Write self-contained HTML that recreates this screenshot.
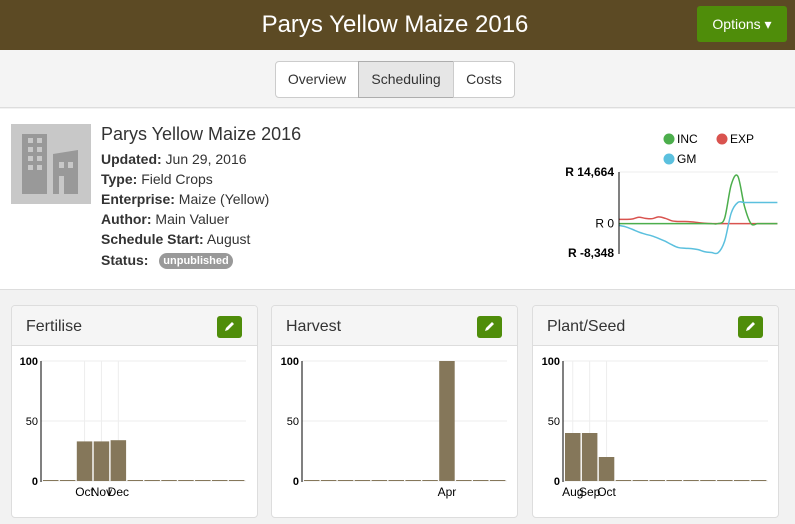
<!DOCTYPE html>
<html><head><meta charset="utf-8"><style>
*{box-sizing:border-box}
body{margin:0;width:795px;height:524px;overflow:hidden;font-family:"Liberation Sans",sans-serif;background:#f2f2f2;color:#333;position:relative}
.abs{position:absolute}
#hdr{left:0;top:0;width:795px;height:50px;background:#5c4a24}
#title{left:0;top:0;width:790px;text-align:center;line-height:50px;color:#fff;font-size:24px}
#opt{left:697px;top:6px;width:90px;height:36px;background:#4f8d0a;border-radius:3px;color:#fff;font-size:14px;line-height:36px;text-align:center}
#tabbar{left:0;top:50px;width:795px;height:58px;background:#f4f4f4;border-bottom:1px solid #ddd}
.tab{top:61px;height:37px;border:1px solid #ccc;background:#fff;font-size:14px;line-height:35px;text-align:center}
#info{left:0;top:109px;width:795px;height:181px;background:#fff;border-bottom:1px solid #ddd}
.ln{left:101px;font-size:14px}
.card{top:305px;width:247px;height:213px;background:#fff;border:1px solid #ddd;border-radius:4px;overflow:hidden}
.ch{left:0;top:0;width:100%;height:40px;background:#f5f5f5;border-bottom:1px solid #ddd}
.ct{left:14px;top:0;line-height:42px;font-size:16px;color:#333}
.eb{left:205px;top:10px;width:25px;height:22px;background:#4f8d0a;border-radius:3px}
</style></head><body>
<div id="hdr" class="abs"></div>
<div id="title" class="abs">Parys Yellow Maize 2016</div>
<div id="opt" class="abs">Options ▾</div>
<div id="tabbar" class="abs"></div>
<div class="abs tab" style="left:275px;width:84px;border-radius:4px 0 0 4px">Overview</div>
<div class="abs tab" style="left:358px;width:96px;background:#e6e6e6;border-color:#adadad">Scheduling</div>
<div class="abs tab" style="left:453px;width:62px;border-radius:0 4px 4px 0">Costs</div>
<div id="info" class="abs"></div>
<svg class="abs" style="left:11px;top:124px" width="80" height="80">
<rect width="80" height="80" fill="#c8c8c8"/>
<rect x="11" y="10" width="25" height="60" fill="#999"/>
<polygon points="42,70 42,30 67,26 67,70" fill="#999"/>
<g fill="#c8c8c8"><rect x="17" y="14" width="5" height="5"/><rect x="26" y="14" width="5" height="5"/><rect x="17" y="23" width="5" height="5"/><rect x="26" y="23" width="5" height="5"/><rect x="17" y="32" width="5" height="5"/><rect x="26" y="32" width="5" height="5"/><rect x="17" y="41" width="5" height="5"/><rect x="26" y="41" width="5" height="5"/><rect x="48" y="38" width="5" height="6"/><rect x="57" y="38" width="5" height="6"/><rect x="48" y="52" width="5" height="18"/></g>
</svg>
<div class="abs" style="left:101px;top:124px;font-size:18px">Parys Yellow Maize 2016</div>
<div class="abs ln" style="top:151px"><b>Updated:</b> Jun 29, 2016</div>
<div class="abs ln" style="top:171px"><b>Type:</b> Field Crops</div>
<div class="abs ln" style="top:191px"><b>Enterprise:</b> Maize (Yellow)</div>
<div class="abs ln" style="top:211px"><b>Author:</b> Main Valuer</div>
<div class="abs ln" style="top:231px"><b>Schedule Start:</b> August</div>
<div class="abs ln" style="top:252px"><b>Status:</b></div>
<div class="abs" style="left:159px;top:253px;width:74px;height:16px;border-radius:8px;background:#999;color:#fff;font-size:11px;font-weight:bold;text-align:center;line-height:16px">unpublished</div>

<svg id="mini" class="abs" style="left:0;top:0" width="795" height="290"></svg>

<div class="abs card" style="left:11px"><div class="abs ch"></div><div class="abs ct">Fertilise</div><div class="abs eb"><svg width="25" height="22"><path d="M8 15 L9 12 L15 6 L17 8 L11 14 Z" fill="#fff"/></svg></div></div>
<div class="abs card" style="left:271px"><div class="abs ch"></div><div class="abs ct">Harvest</div><div class="abs eb"><svg width="25" height="22"><path d="M8 15 L9 12 L15 6 L17 8 L11 14 Z" fill="#fff"/></svg></div></div>
<div class="abs card" style="left:532px"><div class="abs ch"></div><div class="abs ct">Plant/Seed</div><div class="abs eb"><svg width="25" height="22"><path d="M8 15 L9 12 L15 6 L17 8 L11 14 Z" fill="#fff"/></svg></div></div>
<svg id="bars" class="abs" style="left:0;top:0" width="795" height="524"></svg>
<script>
const months=["Aug","Sep","Oct","Nov","Dec","Jan","Feb","Mar","Apr","May","Jun","Jul"];
const fertiliseValues=[0,0,33,33,34,0,0,0,0,0,0,0];
const harvestValues=[0,0,0,0,0,0,0,0,100,0,0,0];
const plantValues=[40,40,20,0,0,0,0,0,0,0,0,0];
const yTicks=[0,50,100];
const incValues=[0,0,0,0,0,0,0,0,0,0,0,0,0,0,0,0,1500,11000,13500,5000,0,0,0,0,0];
const expValues=[1200,1200,1300,1800,1500,1400,1900,1500,800,600,600,500,300,100,0,0,0,0,0,0,0,0,0,0,0];
const gmValues=[-500,-900,-1600,-2400,-3000,-3500,-4200,-5000,-6000,-6800,-7000,-7100,-7400,-8000,-8200,-8300,-5000,3000,6000,6000,6000,6000,6000,6000,6000];
const cashTicks=[14664,0,-8348];
const cashTickLabels=["R 14,664","R 0","R -8,348"];
const NS="http://www.w3.org/2000/svg";
function mk(p,t,a){const e=document.createElementNS(NS,t);for(const k in a)e.setAttribute(k,a[k]);p.appendChild(e);return e;}
const bs=document.getElementById('bars');
function barChart(ax,vals,nm){
  const y=v=>481-v*1.2, x=i=>ax+2+i*16.9, w=15.5;
  yTicks.forEach(t=>{const g=mk(bs,'line',{x1:ax,x2:ax+205,y1:y(t),y2:y(t),stroke:'#eee'});
    
    
    const l=mk(bs,'text',{x:ax-3,y:y(t)+4,'text-anchor':'end','font-size':11,'font-weight':t==50?'normal':'bold',fill:'#000'});l.textContent=t;
    
    });
  vals.forEach((v,i)=>{
    if(v>0){const g=mk(bs,'line',{x1:x(i)+w/2,x2:x(i)+w/2,y1:361,y2:481,stroke:'#eee'});
      
      
      const t=mk(bs,'text',{x:x(i)+w/2,y:496,'text-anchor':'middle','font-size':12,fill:'#000'});t.textContent=months[i];
      
      }
    const r=mk(bs,'rect',{x:x(i),y:Math.min(y(v),480),width:w,height:Math.max(481-y(v),1),fill:'#85775a'});
    
    
  });
  const a=mk(bs,'line',{x1:ax,x2:ax,y1:361,y2:482,stroke:'#000'});
  
  
}
barChart(41,fertiliseValues,'fertilise');
barChart(302,harvestValues,'harvest');
barChart(563,plantValues,'plant-seed');
const ms=document.getElementById('mini');
const cy=v=>172+(14664-v)*81/23012, cx=i=>619+i*6.6;
cashTicks.forEach((t,i)=>{const l=mk(ms,'text',{x:614,y:cy(t)+4,'text-anchor':'end','font-size':12,'font-weight':t==0?'normal':'bold',fill:'#000'});l.textContent=cashTickLabels[i];
  
  });
const gl=mk(ms,'line',{x1:619,x2:778,y1:172,y2:172,stroke:'#eee'});


function smooth(vals){
  const P=vals.map((v,i)=>[cx(i),cy(v)]);
  let d='M'+P[0][0]+' '+P[0][1];
  for(let i=0;i<P.length-1;i++){
    const p0=P[Math.max(i-1,0)],p1=P[i],p2=P[i+1],p3=P[Math.min(i+2,P.length-1)];
    const t=1/6;
    d+=' C'+(p1[0]+(p2[0]-p0[0])*t)+' '+(p1[1]+(p2[1]-p0[1])*t)+' '+(p2[0]-(p3[0]-p1[0])*t)+' '+(p2[1]-(p3[1]-p1[1])*t)+' '+p2[0]+' '+p2[1];
  }
  return d;
}
function series(vals,col,nm){const p=mk(ms,'path',{d:smooth(vals),fill:'none',stroke:col,'stroke-width':1.5});
  
  }
series(expValues,'#d9534f','exp-line');
series(incValues,'#4cae4c','inc-line');
series(gmValues,'#5bc0de','gm-line');
const ya=mk(ms,'line',{x1:619,x2:619,y1:172,y2:254,stroke:'#000'});


[["INC","#4cae4c",669,139],["EXP","#d9534f",722,139],["GM","#5bc0de",669,159]].forEach(d=>{
  const c=mk(ms,'circle',{cx:d[2],cy:d[3],r:5.5,fill:d[1]});
  
  
  const t=mk(ms,'text',{x:d[2]+8,y:d[3]+4,'font-size':12,fill:'#000'});t.textContent=d[0];
  
  
});
</script>
</body></html>
